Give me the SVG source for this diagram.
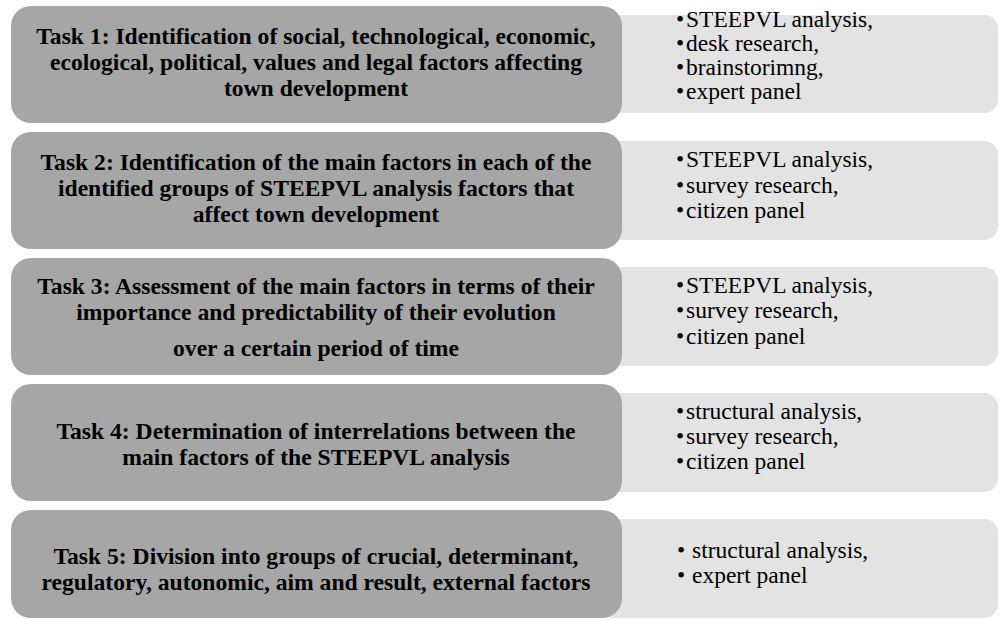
<svg xmlns="http://www.w3.org/2000/svg" width="1000" height="620" viewBox="0 0 1000 620">
<style>
.dark{fill:#a6a6a6}
.light{fill:#e3e3e3}
.t{font-family:"Liberation Serif","Times New Roman",serif;font-size:23.6px;font-weight:bold;fill:#000;text-anchor:middle}
.b{font-family:"Liberation Serif","Times New Roman",serif;font-size:23.5px;fill:#000}
</style>
<rect width="1000" height="620" fill="#fff"/>
<g id="task1">
<rect class="light" x="600" y="15" width="398" height="98" rx="14"/>
<rect class="dark" x="11" y="6" width="611" height="117" rx="20"/>
<text class="t" x="316" y="44">Task 1: Identification of social, technological, economic,</text>
<text class="t" x="316" y="70">ecological, political, values and legal factors affecting</text>
<text class="t" x="316" y="96">town development</text>
<text class="b" x="676" y="27">•</text><text class="b" x="686" y="27">STEEPVL analysis,</text>
<text class="b" x="676" y="51">•</text><text class="b" x="686" y="51">desk research,</text>
<text class="b" x="676" y="75">•</text><text class="b" x="686" y="75">brainstorimng,</text>
<text class="b" x="676" y="99">•</text><text class="b" x="686" y="99">expert panel</text>
</g>
<g id="task2">
<rect class="light" x="600" y="141" width="398" height="99" rx="14"/>
<rect class="dark" x="11" y="132" width="611" height="117" rx="20"/>
<text class="t" x="316" y="170">Task 2: Identification of the main factors in each of the</text>
<text class="t" x="316" y="196">identified groups of STEEPVL analysis factors that</text>
<text class="t" x="316" y="222">affect town development</text>
<text class="b" x="676" y="167">•</text><text class="b" x="686" y="167">STEEPVL analysis,</text>
<text class="b" x="676" y="193">•</text><text class="b" x="686" y="193">survey research,</text>
<text class="b" x="676" y="218">•</text><text class="b" x="686" y="218">citizen panel</text>
</g>
<g id="task3">
<rect class="light" x="600" y="267" width="398" height="99" rx="14"/>
<rect class="dark" x="11" y="258" width="611" height="117" rx="20"/>
<text class="t" x="316" y="294">Task 3: Assessment of the main factors in terms of their</text>
<text class="t" x="316" y="320">importance and predictability of their evolution</text>
<text class="t" x="316" y="356">over a certain period of time</text>
<text class="b" x="676" y="293">•</text><text class="b" x="686" y="293">STEEPVL analysis,</text>
<text class="b" x="676" y="318">•</text><text class="b" x="686" y="318">survey research,</text>
<text class="b" x="676" y="344">•</text><text class="b" x="686" y="344">citizen panel</text>
</g>
<g id="task4">
<rect class="light" x="600" y="393" width="398" height="99" rx="14"/>
<rect class="dark" x="11" y="384" width="611" height="117" rx="20"/>
<text class="t" x="316" y="439">Task 4: Determination of interrelations between the</text>
<text class="t" x="316" y="465">main factors of the STEEPVL analysis</text>
<text class="b" x="676" y="419">•</text><text class="b" x="686" y="419">structural analysis,</text>
<text class="b" x="676" y="444">•</text><text class="b" x="686" y="444">survey research,</text>
<text class="b" x="676" y="469">•</text><text class="b" x="686" y="469">citizen panel</text>
</g>
<g id="task5">
<rect class="light" x="600" y="519" width="398" height="99" rx="14"/>
<rect class="dark" x="11" y="510" width="611" height="108" rx="20"/>
<text class="t" x="316" y="564">Task 5: Division into groups of crucial, determinant,</text>
<text class="t" x="316" y="590">regulatory, autonomic, aim and result, external factors</text>
<text class="b" x="677" y="558">•</text><text class="b" x="692" y="558">structural analysis,</text>
<text class="b" x="677" y="583">•</text><text class="b" x="692" y="583">expert panel</text>
</g>
<g id="connectors"></g>
</svg>
